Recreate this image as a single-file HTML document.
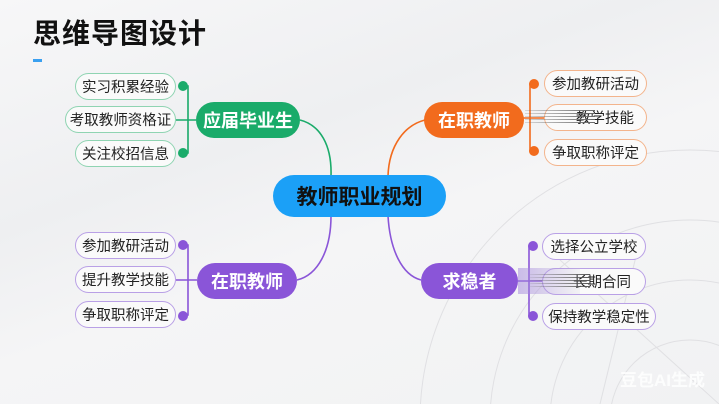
<!DOCTYPE html>
<html><head><meta charset="utf-8"><style>
*{margin:0;padding:0;box-sizing:border-box}
html{width:719px;height:404px;overflow:hidden}
body{width:719px;height:404px;overflow:hidden;position:relative;font-family:"Liberation Sans","Noto Sans CJK SC",sans-serif;
background:linear-gradient(160deg,#f7f7f8 0%,#eeeff1 35%,#f5f5f6 55%,#f1f2f3 100%);}
.t{position:absolute;left:33px;top:12px;font-size:28px;font-weight:bold;color:#111;letter-spacing:1px}
.dash{position:absolute;left:33px;top:59px;width:9px;height:3px;background:#3aa0f0}
.n{position:absolute;border-radius:18px;color:#fff;font-weight:bold;font-size:18px;display:flex;align-items:center;justify-content:center}
.l{position:absolute;height:27px;border-radius:14px;background:#fafafa;font-size:14.5px;color:#222;display:flex;align-items:center;justify-content:center}
.g{border:1px solid #8fd4b2}.o{border:1px solid #f3b48c}.p{border:1px solid #b9a0e6}
.wm{position:absolute;left:620px;top:366px;font-size:17px;font-weight:bold;color:#fff;opacity:.85}
</style></head><body>
<svg width="719" height="404" style="position:absolute;left:0;top:0;display:block">
<g fill="none" stroke="#e0e0e3" stroke-width="1">
<circle cx="690" cy="420" r="80"/><circle cx="690" cy="420" r="140"/><circle cx="690" cy="420" r="200"/><circle cx="690" cy="420" r="270"/>
<line x1="560" y1="260" x2="719" y2="404"/><line x1="640" y1="240" x2="600" y2="404"/>
</g>
<g fill="none" stroke-width="1.6">
<path d="M300 120 C320 125 332 145 331 176" stroke="#1aab6a"/>
<path d="M425 120 C405 125 389 145 388 176" stroke="#f26b1d"/>
<path d="M331 216 C331 250 318 275 297 280" stroke="#8a55d8"/>
<path d="M388 216 C390 250 402 275 421 280" stroke="#8a55d8"/>
<path d="M183 86 H188 V153 H183 M176 120 H196" stroke="#1aab6a"/>
<path d="M534 84 H530 V151 H534 M523 118 H544" stroke="#f26b1d"/>
<path d="M183 245 H188 V315 H183 M176 280 H197" stroke="#8a55d8"/>
<path d="M533 246 H529 V316 H533 M518 281 H542" stroke="#8a55d8"/>
</g>
<g>
<circle cx="183" cy="86" r="5" fill="#1aab6a"/><circle cx="183" cy="153" r="5" fill="#1aab6a"/>
<circle cx="534" cy="84" r="5" fill="#f26b1d"/><circle cx="534" cy="151" r="5" fill="#f26b1d"/>
<circle cx="183" cy="245" r="5" fill="#8a55d8"/><circle cx="183" cy="316" r="5" fill="#8a55d8"/>
<circle cx="533" cy="246" r="5" fill="#8a55d8"/><circle cx="533" cy="316" r="5" fill="#8a55d8"/>
</g>
</svg>
<div class="t">思维导图设计</div><div class="dash"></div>
<div class="n" style="left:196px;top:102px;width:104px;height:36px;background:#1aab6a">应届毕业生</div>
<div class="l g" style="left:75px;top:73px;width:101px">实习积累经验</div>
<div class="l g" style="left:65px;top:106px;width:111px">考取教师资格证</div>
<div class="l g" style="left:75px;top:140px;width:101px">关注校招信息</div>
<div class="n" style="left:273px;top:175px;width:173px;height:42px;border-radius:21px;background:#1ba0f7;color:#111;font-size:21px">教师职业规划</div>
<div class="n" style="left:424px;top:102px;width:100px;height:36px;background:#f26b1d">在职教师</div>
<div class="l o" style="left:544px;top:70px;width:103px">参加教研活动</div>
<div class="l o" style="left:544px;top:104px;width:103px;justify-content:flex-end;padding-right:12px">教学技能</div>
<div class="l o" style="left:544px;top:139px;width:103px">争取职称评定</div>
<div style="position:absolute;left:525px;top:110px;width:70px;height:14px;background:repeating-linear-gradient(180deg,#666 0 1px,transparent 1px 3px);-webkit-mask:linear-gradient(90deg,rgba(0,0,0,.2),#000);mask:linear-gradient(90deg,rgba(0,0,0,.2),#000)"></div>
<div class="n" style="left:197px;top:263px;width:100px;height:36px;background:#8a55d8">在职教师</div>
<div class="l p" style="left:75px;top:232px;width:101px">参加教研活动</div>
<div class="l p" style="left:75px;top:266px;width:101px">提升教学技能</div>
<div class="l p" style="left:75px;top:301px;width:101px">争取职称评定</div>
<div class="n" style="left:421px;top:263px;width:97px;height:36px;background:#8a55d8">求稳者</div>
<div class="l p" style="left:542px;top:233px;width:104px">选择公立学校</div>
<div class="l p" style="left:542px;top:268px;width:104px;justify-content:flex-end;padding-right:14px">长期合同</div>
<div class="l p" style="left:542px;top:303px;width:114px">保持教学稳定性</div>
<div style="position:absolute;left:518px;top:268px;width:62px;height:26px;background:linear-gradient(90deg,rgba(160,130,220,.5),rgba(200,200,210,.15));"></div>
<div style="position:absolute;left:530px;top:274px;width:60px;height:14px;background:repeating-linear-gradient(180deg,#555 0 1px,transparent 1px 3px);-webkit-mask:linear-gradient(90deg,rgba(0,0,0,.1),#000);mask:linear-gradient(90deg,rgba(0,0,0,.1),#000)"></div>
<div class="wm">豆包AI生成</div>
</body></html>
